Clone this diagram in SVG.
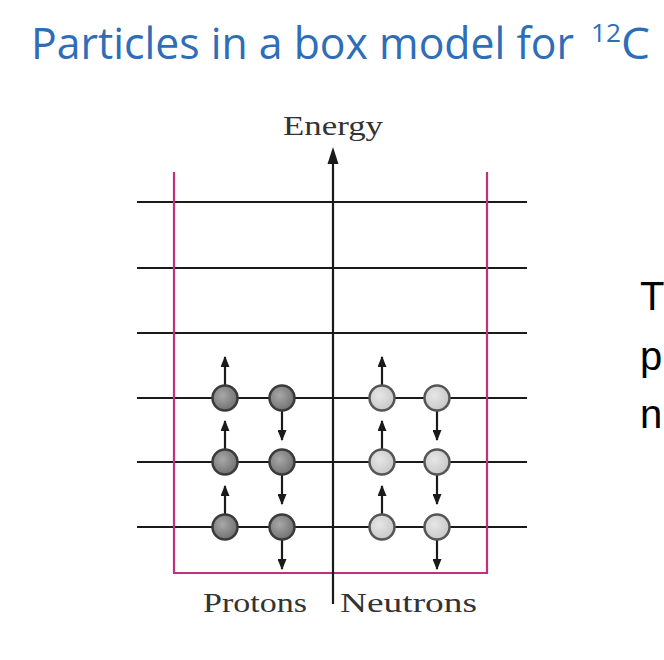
<svg xmlns="http://www.w3.org/2000/svg" width="664" height="660" viewBox="0 0 664 660">
<style>
.title{font-family:"Open Sans","Liberation Sans",sans-serif;fill:#2E6DB8}
.lbl{font-family:"Liberation Serif","DejaVu Serif",serif;font-size:27px;fill:#333}
.side{font-family:"Liberation Sans",Arial,sans-serif;font-size:40px;fill:#000}
.lvl{stroke:#1a1a1a;stroke-width:2}
.box{stroke:#C2307C;stroke-width:2.2;fill:none}
.spin{stroke:#1a1a1a;stroke-width:2.2;fill:none}
.p{fill:url(#gp);stroke:#3a3a3a;stroke-width:2.5}
.n{fill:url(#gn);stroke:#555;stroke-width:2.5}
</style>
<defs>
<radialGradient id="gp" cx="0.4" cy="0.4" r="0.7"><stop offset="0" stop-color="#a8a8a8"/><stop offset="1" stop-color="#6a6a6a"/></radialGradient>
<radialGradient id="gn" cx="0.4" cy="0.4" r="0.7"><stop offset="0" stop-color="#e6e6e6"/><stop offset="1" stop-color="#c4c4c4"/></radialGradient>
<marker id="ah" viewBox="0 0 10 10" refX="9" refY="5" markerWidth="11" markerHeight="9" orient="auto" markerUnits="userSpaceOnUse" preserveAspectRatio="none"><path d="M0,0 L10,5 L0,10 z" fill="#1a1a1a"/></marker>
</defs>
<rect width="664" height="660" fill="#fff"/>
<g id="title">
<text class="title" x="31" y="59" font-size="43" textLength="543" lengthAdjust="spacingAndGlyphs">Particles in a box model for</text>
<text class="title" x="591" y="42" font-size="26" textLength="30" lengthAdjust="spacingAndGlyphs">12</text>
<text class="title" x="621" y="59" font-size="43" textLength="29" lengthAdjust="spacingAndGlyphs">C</text>
</g>
<g id="side-text">
<text class="side" x="640" y="310">T</text>
<text class="side" x="640" y="370">p</text>
<text class="side" x="640" y="428">n</text>
</g>
<g id="levels">
<line class="lvl" x1="137" y1="202" x2="527" y2="202"/>
<line class="lvl" x1="137" y1="268" x2="527" y2="268"/>
<line class="lvl" x1="137" y1="333" x2="527" y2="333"/>
<line class="lvl" x1="137" y1="398" x2="527" y2="398"/>
<line class="lvl" x1="137" y1="462" x2="527" y2="462"/>
<line class="lvl" x1="137" y1="527" x2="527" y2="527"/>
</g>
<g id="box">
<path class="box" d="M174,172 V573 H487 V172"/>
</g>
<g id="axis">
<line x1="333" y1="604" x2="333" y2="163" stroke="#1a1a1a" stroke-width="2.2"/>
<path d="M333,147 L338.5,164 L327.5,164 z" fill="#1a1a1a"/>
<text class="lbl" x="283" y="135" textLength="100" lengthAdjust="spacingAndGlyphs">Energy</text>
</g>
<g id="labels">
<text class="lbl" x="203" y="612" textLength="104" lengthAdjust="spacingAndGlyphs">Protons</text>
<text class="lbl" x="340" y="612" textLength="137" lengthAdjust="spacingAndGlyphs">Neutrons</text>
</g>
<g id="spins">
<g class="spin">
<line x1="225" y1="385" x2="225" y2="357" marker-end="url(#ah)"/>
<line x1="225" y1="449" x2="225" y2="421" marker-end="url(#ah)"/>
<line x1="225" y1="514" x2="225" y2="486" marker-end="url(#ah)"/>
<line x1="282" y1="411" x2="282" y2="440" marker-end="url(#ah)"/>
<line x1="282" y1="475" x2="282" y2="504" marker-end="url(#ah)"/>
<line x1="282" y1="540" x2="282" y2="569" marker-end="url(#ah)"/>
<line x1="382" y1="385" x2="382" y2="357" marker-end="url(#ah)"/>
<line x1="382" y1="449" x2="382" y2="421" marker-end="url(#ah)"/>
<line x1="382" y1="514" x2="382" y2="486" marker-end="url(#ah)"/>
<line x1="437" y1="411" x2="437" y2="440" marker-end="url(#ah)"/>
<line x1="437" y1="475" x2="437" y2="504" marker-end="url(#ah)"/>
<line x1="437" y1="540" x2="437" y2="569" marker-end="url(#ah)"/>
</g>
</g>
<g id="protons">
<circle class="p" cx="225" cy="398" r="12.5"/>
<circle class="p" cx="282" cy="398" r="12.5"/>
<circle class="p" cx="225" cy="462" r="12.5"/>
<circle class="p" cx="282" cy="462" r="12.5"/>
<circle class="p" cx="225" cy="527" r="12.5"/>
<circle class="p" cx="282" cy="527" r="12.5"/>
</g>
<g id="neutrons">
<circle class="n" cx="382" cy="398" r="12.5"/>
<circle class="n" cx="437" cy="398" r="12.5"/>
<circle class="n" cx="382" cy="462" r="12.5"/>
<circle class="n" cx="437" cy="462" r="12.5"/>
<circle class="n" cx="382" cy="527" r="12.5"/>
<circle class="n" cx="437" cy="527" r="12.5"/>
</g>
</svg>
